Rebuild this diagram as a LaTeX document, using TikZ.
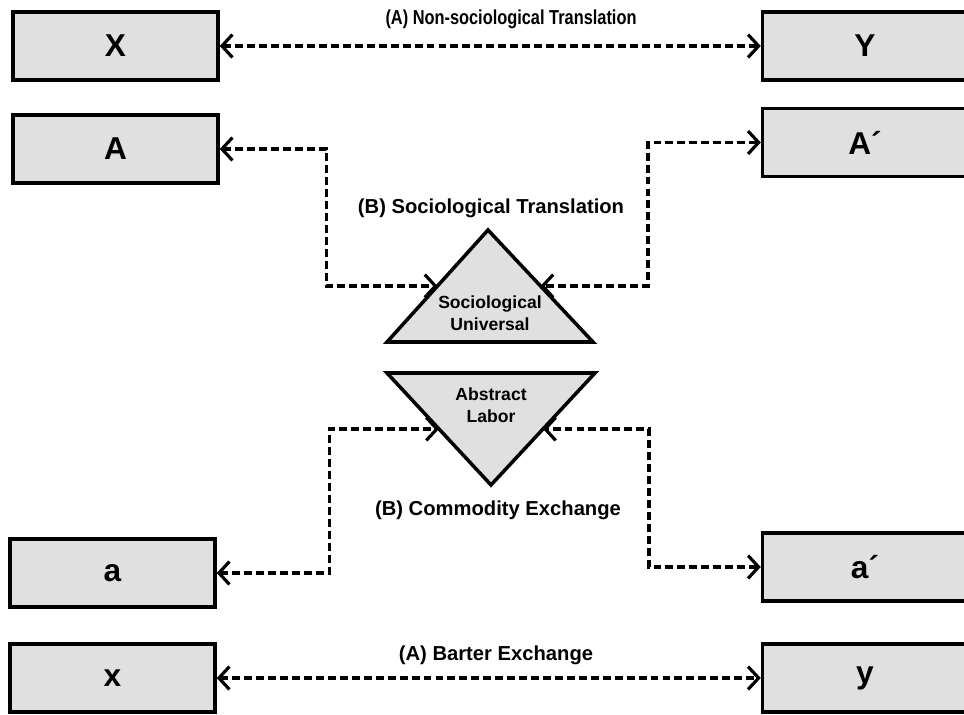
\documentclass[tikz,border=0pt]{standalone}
\usepackage{fontspec}
\setmainfont{Liberation Sans}
\usepackage{xcolor}
\usepackage{tikz}
\usetikzlibrary{arrows.meta, positioning, calc}
\definecolor{boxgray}{RGB}{224,224,224}
\tikzset{
  termbox/.style={
    rectangle,
    minimum width=4.1cm,
    minimum height=1.36cm,
    text centered,
    draw=black,
    line width=2pt,
    fill=boxgray,
    font=\fontsize{18}{20}\selectfont\bfseries
  },
  caption/.style={
    font=\fontsize{11.5}{13}\selectfont\bfseries,
    align=center
  },
  trilabel/.style={
    font=\fontsize{10}{12.3}\selectfont\bfseries,
    align=center
  },
  tri/.style={
    draw=black,
    line width=2pt,
    fill=boxgray,
    line join=miter
  },
  linkarrow/.style={
    line width=2pt,
    dash pattern=on 4.5pt off 2.3pt,
    <->,
    >={Straight Barb[length=6pt,width=13pt,line width=1.8pt]}
  }
}
\begin{document}
\begin{tikzpicture}[x=0.02cm, y=-0.02cm]
  \useasboundingbox (0,0) rectangle (964,715);

  % --- boxes ---
  \node (X)  [termbox] at (115.5,46)  {X};
  \node (Y)  [termbox] at (865,46)    {Y};
  \node (A)  [termbox] at (115.5,149) {A};
  \node (Ap) [termbox] at (865,142.5) {A´};
  \node (a)  [termbox] at (112.5,573) {a};
  \node (ap) [termbox] at (865,567)   {a´};
  \node (x)  [termbox] at (112.5,678) {x};
  \node (y)  [termbox] at (865,678)   {y};

  % --- triangles ---
  \coordinate (SUtop)   at (488,230);
  \coordinate (SUleft)  at (387,342);
  \coordinate (SUright) at (593,342);
  \draw[tri] (SUtop) -- (SUright) -- (SUleft) -- cycle;
  \coordinate (SUl) at ($(SUtop)!0.5!(SUleft)$);
  \coordinate (SUr) at ($(SUtop)!0.5!(SUright)$);
  \node (SU) [trilabel] at (490,313) {Sociological\\Universal};

  \coordinate (ALleft)   at (387,373);
  \coordinate (ALright)  at (595,373);
  \coordinate (ALbottom) at (491,485);
  \draw[tri] (ALleft) -- (ALright) -- (ALbottom) -- cycle;
  \coordinate (ALl) at ($(ALbottom)!0.5!(ALleft)$);
  \coordinate (ALr) at ($(ALbottom)!0.5!(ALright)$);
  \node (AL) [trilabel] at (491,405) {Abstract\\Labor};

  % --- captions ---
  \node (capA1) [caption] at (511,19)  {\addfontfeature{FakeStretch=0.81}(A) Non-sociological Translation};
  \node (capB1) [caption] at (491,208) {(B) Sociological Translation};
  \node (capB2) [caption] at (498,510) {(B) Commodity Exchange};
  \node (capA2) [caption] at (496,655) {(A) Barter Exchange};

  % --- connectors ---
  \draw[linkarrow] (X) -- (Y);
  \draw[linkarrow] (A.east) -- ++(107,0) |- (SUl);
  \draw[linkarrow] (Ap.west) -- ++(-113,0) |- (SUr);
  \draw[linkarrow] (a.east) -- ++(113,0) |- (ALl);
  \draw[linkarrow] (ap.west) -- ++(-112,0) |- (ALr);
  \draw[linkarrow] (x) -- (y);

\end{tikzpicture}
\end{document}
